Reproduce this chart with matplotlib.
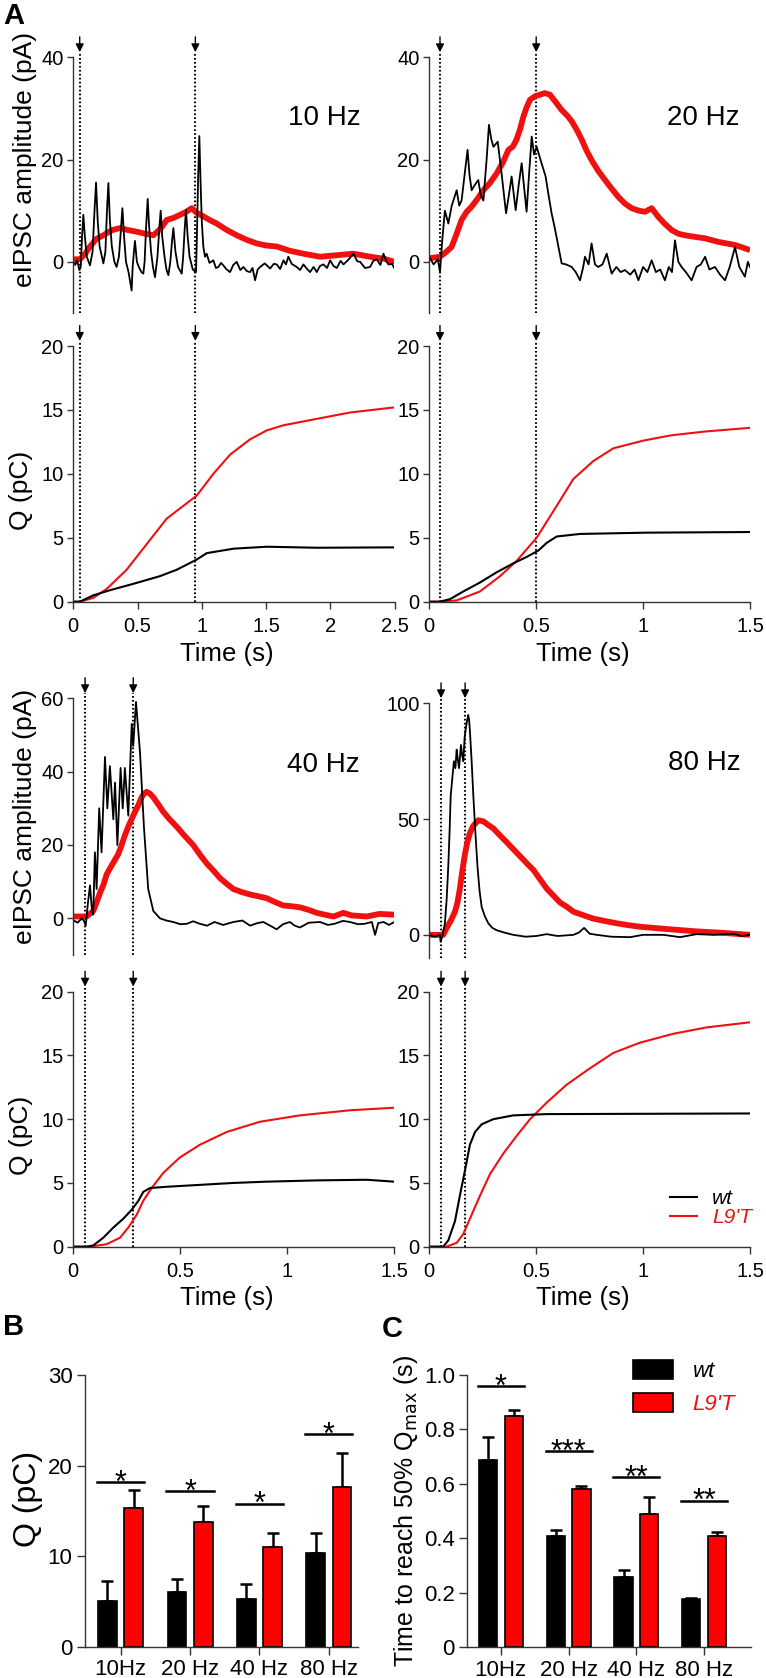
import numpy as np
import matplotlib
matplotlib.use('Agg')
import matplotlib.pyplot as plt
from matplotlib.patches import Patch
from matplotlib.lines import Line2D

plt.rcParams['font.family'] = ['Liberation Sans', 'DejaVu Sans']

# ---------------- data ----------------
# 10 Hz eIPSC traces (s, pA)
t_wt_10 = [0, 0.015, 0.03, 0.047, 0.058, 0.068, 0.078, 0.09, 0.105, 0.13,
           0.15, 0.165, 0.177, 0.19, 0.205, 0.234,
           0.25, 0.262, 0.273, 0.285, 0.3, 0.32, 0.337,
           0.355, 0.37, 0.382, 0.395, 0.41, 0.43, 0.454,
           0.462, 0.472, 0.48, 0.495, 0.51, 0.53, 0.545,
           0.555, 0.567, 0.579, 0.59, 0.605, 0.62, 0.636,
           0.655, 0.668, 0.68, 0.692, 0.71, 0.725, 0.74,
           0.755, 0.768, 0.779, 0.795, 0.815, 0.844,
           0.855, 0.866, 0.877, 0.89, 0.905, 0.93, 0.955,
           0.962, 0.972, 0.981, 0.99, 1.0, 1.012, 1.025, 1.038,
           1.06, 1.09, 1.11, 1.129, 1.15, 1.168, 1.19, 1.22, 1.245, 1.272, 1.3, 1.324, 1.35,
           1.376, 1.395, 1.415, 1.435, 1.454, 1.49, 1.532, 1.56, 1.584, 1.61, 1.636, 1.655,
           1.674, 1.7, 1.739, 1.765, 1.791, 1.82, 1.843, 1.87, 1.895, 1.92, 1.947, 1.975,
           1.999, 2.025, 2.051, 2.08, 2.103, 2.14, 2.181, 2.21, 2.233, 2.27, 2.31, 2.335,
           2.362, 2.39, 2.414, 2.435, 2.453, 2.48, 2.5]
i_wt_10 = [0, -0.6, 0.3, -1.6, -1, 5, 9.2, 5, 1, -0.7,
           2, 10, 15.5, 8, 3, -0.3,
           2, 10, 15.4, 8, 3, 0, -1,
           1, 6, 10.5, 5, 0, -2, -5.6,
           -1, 2, 4.1, 0, -1, -2, -2.3,
           0, 7, 12.3, 7, 2, -1, -3,
           1, 6, 10, 5, 1, -1.5, -2.6,
           0, 4, 6.6, 2, -1, -2.3,
           1, 6, 10.2, 5, 1, -1.5, -2,
           5, 17, 24.6, 16, 8, 3, 1, 1.6,
           -0.2, 0.3, -1.2, -1, -0.2, -0.7, -1.4, -2, -0.6, 0, -1.6, -1, -1.8,
           -2, -1.2, -3.6, -1.5, -1, -0.3, -1.3, -0.4, -0.5, -1.4, 0.3, -0.5,
           1, -0.4, -1, -1.6, -0.5, -1.4, -2, -1, -2, -0.8, -0.5, -1.2,
           0.3, -0.8, -1.2, 0.2, -0.5, 0.4, 1.6, 0.1, 0, -1.2, -1, 0.2,
           0.5, -0.6, 1.6, 0.2, -0.5, -0.4, -1.3]
t_l9_10 = [0, 0.05, 0.09, 0.13, 0.18, 0.234, 0.3, 0.363, 0.43, 0.493, 0.56, 0.623, 0.68, 0.727,
           0.78, 0.831, 0.88, 0.922, 0.96, 1.012, 1.06, 1.116, 1.19, 1.272, 1.35, 1.428,
           1.5, 1.584, 1.68, 1.79, 1.92, 2.05, 2.18, 2.31, 2.42, 2.5]
i_l9_10 = [0.5, 0.5, 1.5, 3, 4.5, 5.2, 6.2, 6.6, 6.2, 5.9, 5.5, 5.2, 6.5, 8.2,
           8.6, 9.2, 9.8, 10.5, 9.6, 8.9, 8.2, 7.5, 6.3, 5.2, 4.3, 3.6,
           3.2, 3, 2.2, 1.6, 1, 1.3, 1.6, 1, 0.6, 0]

# 20 Hz eIPSC traces
t_wt_20 = [0, 0.02, 0.04, 0.05, 0.06, 0.073, 0.089, 0.105, 0.128, 0.14, 0.151, 0.165, 0.179,
           0.188, 0.198, 0.212, 0.229, 0.241, 0.253, 0.268, 0.279, 0.29, 0.3,
           0.32, 0.338, 0.359, 0.372, 0.385, 0.404, 0.418, 0.432, 0.455, 0.468, 0.479, 0.49,
           0.502, 0.525, 0.544, 0.558, 0.572, 0.585,
           0.595, 0.619, 0.64, 0.666, 0.685, 0.705, 0.72, 0.728, 0.745, 0.759, 0.775, 0.79,
           0.81, 0.83, 0.845, 0.853, 0.875, 0.895, 0.915, 0.94, 0.96, 0.978, 1.0, 1.02, 1.04,
           1.06, 1.08, 1.102, 1.12, 1.135, 1.149, 1.165, 1.18, 1.2, 1.227, 1.25, 1.27, 1.29,
           1.31, 1.336, 1.36, 1.383, 1.405, 1.43, 1.45, 1.476, 1.49, 1.5]
i_wt_20 = [1, -0.5, 0.5, -2, 4, 10, 7.5, 11, 14, 11, 12, 17, 21.9,
           17, 14, 15, 16, 13, 12, 20, 26.8, 24, 22.5,
           23.5, 17.3, 9.5, 13, 16.7, 10.1, 15, 19.3, 9.8, 18, 24.5, 21,
           22.5, 19.3, 16.7, 13, 9.5, 7,
           4.9, -0.3, -0.5, -1, -2, -3.6, -1, 1, -0.5, 3.6, -0.5, -1,
           -0.5, 1.6, -1, -2.3, -1, -2, -1.6, -2.5, -1.5, -3.6, -1, -2, 0.3,
           -2, -1.5, -3.6, -1, -2, 4.2, 0, -1, -2, -3.6, -1, -0.5, 1,
           -1.5, -1, -2.5, -3.6, -1, 2.9, -1, -2.9, 0, -1]
t_l9_20 = [0, 0.05, 0.075, 0.104, 0.128, 0.151, 0.175, 0.198, 0.225, 0.253, 0.285, 0.315,
           0.345, 0.37, 0.39, 0.408, 0.425, 0.44, 0.455, 0.471, 0.495, 0.518, 0.54, 0.564,
           0.59, 0.619, 0.645, 0.666, 0.69, 0.713, 0.735, 0.759, 0.79, 0.822, 0.855, 0.884,
           0.915, 0.946, 0.98, 1.009, 1.04, 1.071, 1.1, 1.134, 1.165, 1.196, 1.24, 1.29,
           1.352, 1.43, 1.5]
i_l9_20 = [0.7, 1, 1.8, 2.9, 5.5, 8.2, 9.8, 10.8, 12.3, 14, 15.5, 17.3,
           19.5, 21.9, 22.5, 23.9, 26, 28.4, 30.2, 31.7, 32.4, 32.7, 33, 32.7,
           31.3, 29.7, 28.6, 27.5, 25.8, 23.9, 21.8, 19.9, 17.8, 16, 14.2, 12.7,
           11.4, 10.5, 10, 9.8, 10.5, 8.8, 7.5, 6.2, 5.5, 5.2, 4.9, 4.6,
           3.9, 3.3, 2.3]

# 40 Hz eIPSC traces
t_wt_40 = [0, 0.02, 0.04, 0.05, 0.058, 0.068, 0.078, 0.086, 0.093, 0.101, 0.109, 0.121, 0.132,
           0.148, 0.159, 0.171, 0.187, 0.195, 0.206, 0.221, 0.231, 0.241, 0.257, 0.273, 0.28,
           0.293, 0.312, 0.33, 0.35, 0.374, 0.405, 0.435, 0.467, 0.5, 0.53, 0.56, 0.592,
           0.625, 0.66, 0.7, 0.748, 0.79, 0.826, 0.86, 0.888, 0.92, 0.95, 0.98, 1.012, 1.035,
           1.059, 1.1, 1.153, 1.19, 1.22, 1.26, 1.293, 1.33, 1.36, 1.395, 1.41, 1.425, 1.45,
           1.475, 1.5]
i_wt_40 = [-0.5, -1.2, 0, -0.7, -2, 4, 9, 3, 1, 18, 8, 30, 18,
           44, 30, 41.5, 27, 37, 20, 41, 30, 41, 28, 53, 47,
           59, 45, 25, 8, 2, 0, -0.6, -1, -1.6, -1.5, -0.8, -1.5,
           -2, -1, -1.8, -1, -0.6, -2, -1.3, -1, -2, -3, -1.6, -1, -2,
           -2.5, -1.2, -1, -1.8, -1.5, -0.7, -1, -1.6, -1.5, -1, -4.5, -1.3, -1,
           -1.8, -1]
t_l9_40 = [0, 0.062, 0.093, 0.11, 0.125, 0.14, 0.156, 0.175, 0.195, 0.21, 0.226, 0.24, 0.257,
           0.272, 0.288, 0.305, 0.319, 0.33, 0.343, 0.358, 0.374, 0.398, 0.421, 0.45, 0.483,
           0.52, 0.56, 0.59, 0.623, 0.655, 0.685, 0.715, 0.748, 0.785, 0.826, 0.865, 0.903,
           0.94, 0.981, 1.02, 1.059, 1.1, 1.137, 1.175, 1.215, 1.24, 1.262, 1.3, 1.371, 1.43,
           1.5]
i_l9_40 = [0.5, 0.5, 2, 4.5, 7, 9, 12, 14, 16, 17.5, 20, 22.5, 25,
           27, 29, 31, 33, 34, 34.5, 34, 33, 31, 29, 27, 25,
           22.5, 20, 17.5, 15, 13, 11, 9.5, 8, 7.2, 6.5, 6, 5.5,
           4.5, 3.5, 3.3, 3, 2.3, 1.5, 1, 0.5, 1, 1.5, 0.8, 0.5, 1.2,
           1]

# 80 Hz eIPSC traces
t_wt_80 = [0, 0.025, 0.05, 0.053, 0.063, 0.073, 0.081, 0.089, 0.095, 0.1, 0.108, 0.115, 0.122,
           0.128, 0.133, 0.139, 0.148, 0.153, 0.159, 0.165, 0.172, 0.182, 0.186,
           0.19, 0.198, 0.206, 0.215, 0.225, 0.235, 0.245, 0.26, 0.276, 0.295, 0.315, 0.35,
           0.393, 0.45, 0.5, 0.549, 0.6, 0.674, 0.7, 0.724, 0.75, 0.783, 0.85, 0.939, 1.0,
           1.095, 1.173, 1.25, 1.329, 1.422, 1.46, 1.5]
i_wt_80 = [0, -0.8, 0, -3, 0, 5, 15, 30, 45, 60, 68, 75, 72,
           80, 76, 72, 82, 78, 75, 85, 90, 95, 93,
           88, 75, 60, 45, 30, 19, 12, 8, 5, 3, 2, 1,
           0, -0.8, -0.5, 0.3, -0.5, 0, 1, 3, 0.5, 0, -0.8, -1, 0,
           0, -1, 0.3, 0, 0.5, -0.5, 0]
t_l9_80 = [0, 0.065, 0.081, 0.1, 0.12, 0.132, 0.143, 0.155, 0.167, 0.178, 0.19, 0.205, 0.229,
           0.253, 0.275, 0.299, 0.33, 0.362, 0.393, 0.424, 0.455, 0.487, 0.518, 0.549, 0.58,
           0.611, 0.645, 0.674, 0.72, 0.767, 0.82, 0.876, 0.93, 0.985, 1.05, 1.11, 1.18,
           1.25, 1.35, 1.5]
i_l9_80 = [0, 0, 3, 6, 10, 14, 20, 28, 35, 40, 44, 47, 49.5,
           49, 47.5, 46, 43, 40, 37, 34, 31, 28, 24, 20, 17,
           14, 12, 10, 8.5, 7, 6, 5, 4.2, 3.5, 3, 2.5, 2,
           1.5, 1, 0]

# cumulative charge Q (s, pC)
tq_wt_10 = [0, 0.052, 0.156, 0.286, 0.468, 0.675, 0.805, 0.961, 1.039, 1.25, 1.506, 1.9, 2.5]
q_wt_10 = [0, 0, 0.5, 0.9, 1.4, 2.0, 2.5, 3.3, 3.8, 4.15, 4.3, 4.22, 4.25]
tq_l9_10 = [0, 0.052, 0.156, 0.26, 0.415, 0.571, 0.727, 0.961, 1.09, 1.22, 1.376, 1.506,
            1.636, 1.895, 2.155, 2.5]
q_l9_10 = [0, 0, 0.3, 1, 2.5, 4.5, 6.5, 8.3, 10, 11.5, 12.7, 13.4,
           13.8, 14.3, 14.8, 15.2]

tq_wt_20 = [0, 0.05, 0.097, 0.159, 0.237, 0.315, 0.393, 0.455, 0.51, 0.549, 0.596, 0.705,
            0.861, 1.017, 1.5]
q_wt_20 = [0, 0, 0.2, 0.8, 1.5, 2.3, 3.0, 3.5, 4.0, 4.6, 5.1, 5.3, 5.35, 5.4, 5.45]
tq_l9_20 = [0, 0.05, 0.128, 0.237, 0.331, 0.409, 0.502, 0.596, 0.674, 0.767, 0.861, 1.001,
            1.126, 1.282, 1.5]
q_l9_20 = [0, 0, 0.1, 0.8, 2, 3.2, 5, 7.5, 9.6, 11, 12, 12.6, 13, 13.3, 13.6]

tq_wt_40 = [0, 0.062, 0.093, 0.14, 0.187, 0.234, 0.273, 0.304, 0.327, 0.358, 0.436, 0.592,
            0.748, 0.903, 1.137, 1.371, 1.5]
q_wt_40 = [0, 0, 0.1, 0.7, 1.5, 2.2, 2.9, 3.6, 4.3, 4.6, 4.7, 4.85, 5.0, 5.1, 5.2, 5.25, 5.1]
tq_l9_40 = [0, 0.078, 0.156, 0.218, 0.257, 0.296, 0.327, 0.366, 0.421, 0.498, 0.592, 0.717,
            0.872, 1.059, 1.293, 1.5]
q_l9_40 = [0, 0, 0.2, 0.7, 1.5, 2.5, 3.6, 4.6, 5.8, 7, 8, 9, 9.8, 10.3, 10.7, 10.9]

tq_wt_80 = [0, 0.065, 0.089, 0.12, 0.143, 0.167, 0.19, 0.214, 0.245, 0.299, 0.393, 0.549, 1.5]
q_wt_80 = [0, 0, 0.5, 2, 4, 6, 8, 9, 9.6, 10, 10.3, 10.4, 10.45]
tq_l9_80 = [0, 0.081, 0.128, 0.159, 0.198, 0.237, 0.284, 0.346, 0.409, 0.471, 0.549, 0.642,
            0.752, 0.861, 0.985, 1.141, 1.297, 1.5]
q_l9_80 = [0, 0, 0.3, 1, 2.5, 4, 5.7, 7.3, 8.7, 10, 11.3, 12.7, 14, 15.2, 16, 16.7, 17.2, 17.6]

# first / last stimulus of each train (s)
stim_10 = [0.05, 0.95]
stim_20 = [0.05, 0.5]
stim_40 = [0.055, 0.28]
stim_80 = [0.055, 0.1675]

# bar charts
freq_labels = ['10Hz', '20 Hz', '40 Hz', '80 Hz']
q_wt_mean = [5.0, 6.0, 5.3, 10.4]
q_wt_sem = [2.25, 1.5, 1.6, 2.2]
q_l9_mean = [15.3, 13.75, 11.0, 17.6]
q_l9_sem = [2.0, 1.75, 1.5, 3.8]
q_sig_y = [18.2, 17.2, 15.8, 23.5]
q_sig = ['*', '*', '*', '*']

t50_wt_mean = [0.689, 0.407, 0.26, 0.176]
t50_wt_sem = [0.083, 0.022, 0.024, 0.004]
t50_l9_mean = [0.848, 0.583, 0.49, 0.407]
t50_l9_sem = [0.022, 0.01, 0.061, 0.018]
t50_sig_y = [0.958, 0.722, 0.625, 0.539]
t50_sig = ['*', '***', '**', '**']

# ---------------- figure ----------------
W, H = 766, 1678
fig = plt.figure(figsize=(W / 100, H / 100), dpi=100)
RED = '#f01010'
SPINE = '#333333'


def rect(x0, y0, x1, y1):
    return [x0 / W, 1 - y1 / H, (x1 - x0) / W, (y1 - y0) / H]


def style(ax, bottom=True, size=14.5):
    ax.set_facecolor('none')
    for s in ['top', 'right']:
        ax.spines[s].set_visible(False)
    ax.spines['bottom'].set_visible(bottom)
    for s in ['left', 'bottom']:
        ax.spines[s].set_color(SPINE)
        ax.spines[s].set_linewidth(1.0)
    ax.tick_params(axis='y', labelsize=size, length=4.5, width=1, color=SPINE, pad=2.5)
    ax.tick_params(axis='x', labelsize=size, length=5, width=1, color=SPINE, pad=6)
    if not bottom:
        ax.tick_params(axis='x', bottom=False, labelbottom=False)


def stim_marks(ax, stims):
    tr = ax.get_xaxis_transform()
    for t in stims:
        ax.plot([t, t], [0, 1.02], transform=tr, color='k', lw=1.5,
                ls=(0, (0.8, 1.1)), clip_on=False, zorder=1)
        ax.annotate('', xy=(t, 1.02), xycoords=tr, xytext=(t, 1.08), textcoords=tr,
                    arrowprops=dict(arrowstyle='-|>', color='k', lw=1, mutation_scale=12,
                                    shrinkA=0, shrinkB=0), annotation_clip=False)


panels = [
    # cur rect, q rect, ylim, yticks, xmax, xticks, stims, label, label pos, traces
    ((73.3, 57.3, 394.5, 313), (73.3, 346, 394.5, 601.7), (-10, 40), [0, 20, 40], 2.5,
     [0, 0.5, 1, 1.5, 2, 2.5], stim_10, '10 Hz', (324, 118),
     (t_wt_10, i_wt_10, t_l9_10, i_l9_10, tq_wt_10, q_wt_10, tq_l9_10, q_l9_10)),
    ((429.3, 57.3, 750, 313), (429.3, 346, 750, 601.7), (-10, 40), [0, 20, 40], 1.5,
     [0, 0.5, 1, 1.5], stim_20, '20 Hz', (703, 118),
     (t_wt_20, i_wt_20, t_l9_20, i_l9_20, tq_wt_20, q_wt_20, tq_l9_20, q_l9_20)),
    ((73.3, 698.3, 394.3, 955), (73.3, 991.7, 394.3, 1246.7), (-10, 60), [0, 20, 40, 60], 1.5,
     [0, 0.5, 1, 1.5], stim_40, '40 Hz', (323, 765),
     (t_wt_40, i_wt_40, t_l9_40, i_l9_40, tq_wt_40, q_wt_40, tq_l9_40, q_l9_40)),
    ((429.3, 703.3, 750, 958), (429.3, 991.7, 750, 1246.7), (-10, 100), [0, 50, 100], 1.5,
     [0, 0.5, 1, 1.5], stim_80, '80 Hz', (704, 763),
     (t_wt_80, i_wt_80, t_l9_80, i_l9_80, tq_wt_80, q_wt_80, tq_l9_80, q_l9_80)),
]

q_axes = []
for k, (cr, qr, ylim, yt, xmax, xt, stims, lab, lpos, tr) in enumerate(panels):
    tw, iw, tl, il, tqw, qw, tql, ql = tr
    axc = fig.add_axes(rect(*cr))
    style(axc, bottom=False)
    axc.plot(tl, il, color=RED, lw=4.2, solid_joinstyle='round', solid_capstyle='butt')
    axc.plot(tw, iw, color='k', lw=1.3, solid_joinstyle='round')
    axc.set_xlim(0, xmax)
    axc.set_ylim(*ylim)
    axc.set_yticks(yt)
    stim_marks(axc, stims)
    fig.text(lpos[0] / W, 1 - lpos[1] / H, lab, fontsize=20, ha='center', va='center')

    axq = fig.add_axes(rect(*qr))
    style(axq)
    axq.plot(tql, ql, color=RED, lw=1.5)
    axq.plot(tqw, qw, color='k', lw=1.5)
    axq.set_xlim(0, xmax)
    axq.set_ylim(0, 20)
    axq.set_yticks([0, 5, 10, 15, 20])
    axq.set_xticks(xt)
    axq.set_xticklabels(['%g' % v for v in xt])
    stim_marks(axq, stims)
    axq.set_xlabel('Time (s)', fontsize=18.5)
    axq.xaxis.set_label_coords(0.478, -0.156)
    if k % 2 == 0:
        axc.set_ylabel('eIPSC amplitude (pA)', fontsize=19)
        axc.yaxis.set_label_coords(-0.113, 0.6 if k == 0 else 0.54)
        axq.set_ylabel('Q (pC)', fontsize=19)
        axq.yaxis.set_label_coords(-0.125, 0.435)
    q_axes.append(axq)

# legend in 80 Hz charge panel
leg = q_axes[3].legend([Line2D([], [], color='k', lw=1.5), Line2D([], [], color=RED, lw=1.5)],
                       ['wt', "L9'T"], loc='upper left',
                       bbox_to_anchor=(659.3 / W, 1 - 1179 / H), bbox_transform=fig.transFigure,
                       frameon=False, borderpad=0, handlelength=1.32, handletextpad=0.72,
                       labelspacing=0.0, prop=dict(style='italic', size=15))
leg.get_texts()[1].set_color(RED)

# ---------------- bar charts ----------------
x = np.arange(len(freq_labels))
off, bw = 0.19, 0.27


def bars(ax, wt_m, wt_e, l9_m, l9_e, sig_y, sig, star_size):
    ax.bar(x - off, wt_m, bw, color='k', edgecolor='k', lw=1.2, zorder=2)
    ax.bar(x + off, l9_m, bw, color='#ff0000', edgecolor='k', lw=1.2, zorder=2)
    ax.errorbar(x - off, wt_m, yerr=[np.zeros(len(x)), wt_e], fmt='none', ecolor='k',
                elinewidth=1.8, capsize=4, capthick=1.8, zorder=1)
    ax.errorbar(x + off, l9_m, yerr=[np.zeros(len(x)), l9_e], fmt='none', ecolor='k',
                elinewidth=1.8, capsize=4, capthick=1.8, zorder=1)
    for i in range(len(x)):
        ax.plot([x[i] - 0.34, x[i] + 0.34], [sig_y[i], sig_y[i]], color='k', lw=1.8)
        ax.annotate(sig[i], xy=(x[i], sig_y[i]), xytext=(0, -7), textcoords='offset points',
                    ha='center', va='baseline', fontsize=star_size)
    ax.set_xticks(x)
    ax.set_xticklabels(freq_labels)


axb = fig.add_axes(rect(85, 1375, 358, 1646.7))
style(axb, size=16)
axb.tick_params(axis='both', length=6, pad=3)
bars(axb, q_wt_mean, q_wt_sem, q_l9_mean, q_l9_sem, q_sig_y, q_sig, 22)
axb.set_xlim(-0.514, 3.42)
axb.set_ylim(0, 30)
axb.set_yticks([0, 10, 20, 30])
axb.set_ylabel('Q (pC)', fontsize=23)
axb.yaxis.set_label_coords(-0.154, 0.544)

axt = fig.add_axes(rect(467.3, 1375, 750.7, 1647.3))
style(axt, size=16)
axt.tick_params(axis='both', length=6, pad=3)
bars(axt, t50_wt_mean, t50_wt_sem, t50_l9_mean, t50_l9_sem, t50_sig_y, t50_sig, 22)
axt.set_xlim(-0.494, 3.686)
axt.set_ylim(0, 1.0)
axt.set_yticks([0, 0.2, 0.4, 0.6, 0.8, 1.0])
axt.set_yticklabels(['0', '0.2', '0.4', '0.6', '0.8', '1.0'])
axt.set_ylabel('Time to reach 50% Q$_{\\mathrm{max}}$ (s)', fontsize=18)
axt.yaxis.set_label_coords(-0.167, 0.5)

leg2 = axt.legend([Patch(facecolor='k', edgecolor='k', lw=1.2),
                   Patch(facecolor='#ff0000', edgecolor='k', lw=1.2)],
                  ['wt', "L9'T"], loc='upper left',
                  bbox_to_anchor=(621.7 / W, 1 - 1349 / H), bbox_transform=fig.transFigure,
                  frameon=False, borderpad=0, handlelength=1.8, handleheight=0.9,
                  handletextpad=0.9, labelspacing=0.5, prop=dict(style='italic', size=16))
leg2.get_texts()[1].set_color(RED)

# panel letters
fig.text(3 / W, 1 - 2 / H, 'A', fontsize=21, fontweight='bold', va='top', ha='left')
fig.text(3 / W, 1 - 1313 / H, 'B', fontsize=21, fontweight='bold', va='top', ha='left')
fig.text(382 / W, 1 - 1315 / H, 'C', fontsize=21, fontweight='bold', va='top', ha='left')

fig.savefig('out.png', dpi=100)
